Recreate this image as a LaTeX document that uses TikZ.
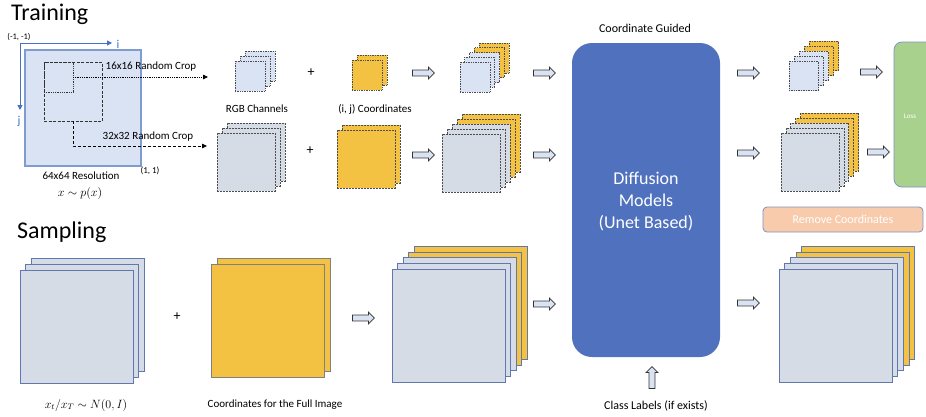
\documentclass[tikz,border=0pt]{standalone}
\usepackage{fontspec}
\setmainfont{Carlito}
\usetikzlibrary{arrows.meta,shapes.arrows}
\definecolor{lblue}{HTML}{DAE3F3}
\definecolor{gblue}{HTML}{D6DCE5}
\definecolor{gold}{HTML}{F4C243}
\definecolor{dblue}{HTML}{4F71BE}
\definecolor{axblue}{HTML}{4472C4}
\definecolor{lgreen}{HTML}{A9D18E}
\definecolor{peach}{HTML}{F8CBAD}
\definecolor{sbord}{HTML}{6077B0}
\definecolor{imgbord}{HTML}{7F9BD0}
\tikzset{
  sq/.style={inner sep=0pt, outer sep=0pt, anchor=north west},
  dotb/.style={draw=black!70, densely dotted, line width=0.7pt},
  dashb/.style={draw=black!70, dash pattern=on 2pt off 1pt, line width=0.7pt},
  solb/.style={draw=sbord, line width=0.8pt},
  harrow/.style={single arrow, draw=black!80, fill=lblue, line width=0.7pt,
    minimum height=22pt, single arrow head extend=3pt,
    inner xsep=0pt, inner ysep=2.6pt, text height=0pt, text depth=0pt, anchor=center},
  lbl/.style={font=\fontsize{11}{13}\selectfont, inner sep=0pt},
  tip/.style={-{Triangle[length=5pt,width=4.5pt]}},
}
% name, x, y, size, offset, n (layers-1), number of yellow back layers, border, fill
\newcommand{\mystack}[9]{%
  \foreach \k in {#6,...,0}{%
    \pgfmathtruncatemacro{\isy}{\k>#6-#7 ? 1 : 0}%
    \ifnum\isy=1 \def\fc{gold}\else\def\fc{#9}\fi
    \node[sq,#8,fill=\fc,minimum width=#4pt,minimum height=#4pt] (#1-\k) at ({#2+\k*#5},{-#3+\k*#5}) {};
  }%
}
\begin{document}
\begin{tikzpicture}[x=1pt,y=1pt]
\useasboundingbox (0,0) rectangle (926,-416);
\clip (0,0) rectangle (926,-416);
\fill[white] (0,0) rectangle (926,-416);

% titles
\node[anchor=west, inner sep=0pt, font=\fontsize{24}{28}\selectfont] (train) at (11,-14) {Training};
\node[anchor=west, inner sep=0pt, font=\fontsize{24}{28}\selectfont] (samp) at (17,-232) {Sampling};

% source image
\node[sq, draw=imgbord, line width=1.2pt, fill=lblue, minimum width=116pt, minimum height=116pt] (img) at (25,-50) {};
\node[sq, draw=black!80, dash pattern=on 3pt off 1.5pt, line width=0.8pt, minimum width=58pt, minimum height=59pt] (c32) at (44,-62) {};
\node[sq, draw=black!80, densely dotted, line width=0.8pt, minimum width=29pt, minimum height=30pt] (c16) at (44,-62) {};

% axes
\coordinate (ax0) at (20,-43);
\coordinate (axi) at (112,-43);
\coordinate (axj) at (20,-110);
\draw[axblue, line width=1pt, -{Triangle[length=5pt,width=5pt]}] (ax0) -- (axi);
\draw[axblue, line width=1pt, -{Triangle[length=5pt,width=5pt]}] (ax0) -- (axj);
\node[lbl, text=axblue, font=\fontsize{12}{14}\selectfont] (ilab) at (118,-44) {i};
\node[lbl, text=axblue, font=\fontsize{12}{14}\selectfont] (jlab) at (19,-121) {j};
\node[lbl, font=\fontsize{8.5}{10}\selectfont] (mm) at (19,-37) {(-1, -1)};
\node[lbl, font=\fontsize{9}{11}\selectfont] (pp) at (150,-171) {(1, 1)};
\node[lbl] (res) at (81,-176) {64x64 Resolution};
\node[inner sep=0pt, font=\fontsize{12}{14}\selectfont] (px) at (80,-193) {$x\sim p(x)$};

% crop arrows
\coordinate (e16) at (208,-77);
\coordinate (e32) at (207,-146);
\draw[densely dotted, line width=0.8pt, tip] (c16.east) -- (e16);
\draw[dash pattern=on 3pt off 2pt, line width=0.8pt, tip] (c32.south) |- (e32);
\node[lbl] (l16) at (151,-67) {16x16 Random Crop};
\node[lbl] (l32) at (148,-137) {32x32 Random Crop};

% training stacks
\mystack{rgbT}{235}{61}{30}{5}{2}{0}{dotb}{lblue}
\mystack{rgbB}{217}{133}{58}{5}{2}{0}{dashb}{gblue}
\mystack{coT}{352}{60}{30}{5}{1}{2}{dotb}{gold}
\mystack{coB}{337}{130}{58}{5}{1}{2}{dashb}{gold}
\mystack{cmT}{460}{62}{30}{4.75}{4}{2}{dotb}{lblue}
\mystack{cmB}{442}{134}{58}{5}{4}{2}{dashb}{gblue}
\mystack{outT}{789}{61}{29.5}{5}{4}{2}{dotb}{lblue}
\mystack{outB}{781}{133}{58}{4.9}{4}{2}{dashb}{gblue}

\node[font=\fontsize{14}{14}\selectfont, inner sep=0pt] (p1) at (311,-73) {+};
\node[font=\fontsize{14}{14}\selectfont, inner sep=0pt] (p2) at (310,-151) {+};
\node[lbl] (rgbl) at (257,-109) {RGB Channels};
\node[lbl] (ijl) at (375,-109) {(i, j) Coordinates};

% hollow arrows
\node[harrow] (a1) at (422,-73) {};
\node[harrow] (a2) at (543,-73) {};
\node[harrow] (a3) at (422,-155) {};
\node[harrow] (a4) at (543,-155) {};
\node[harrow] (a5) at (747,-73) {};
\node[harrow] (a6) at (747,-153) {};
\node[harrow] (a7) at (870,-72) {};
\node[harrow] (a8) at (877,-152) {};
\node[harrow] (a9) at (362,-318) {};
\node[harrow] (a10) at (543,-304) {};
\node[harrow] (a11) at (747,-303) {};
\node[harrow, rotate=90] (a12) at (652,-379) {};

% diffusion model
\node[lbl, font=\fontsize{12}{14}\selectfont] (cg) at (645,-28) {Coordinate Guided};
\node[sq, fill=dblue, rounded corners=20pt, minimum width=148pt, minimum height=314pt] (dm) at (572,-43) {};
\node[text=white, font=\fontsize{18}{22}\selectfont, align=center, inner sep=0pt] (dmt) at (646,-202) {Diffusion\\Models\\(Unet Based)};

% loss and remove coordinates
\node[sq, fill=lgreen, draw=sbord!80, line width=0.8pt, rounded corners=8pt, minimum width=50pt, minimum height=145pt] (loss) at (894,-42) {};
\node[text=white, inner sep=0pt, font=\fontsize{7}{8}\selectfont] (losst) at (910,-116) {Loss};
\node[sq, fill=peach, draw=sbord!80, line width=0.8pt, rounded corners=4pt, minimum width=160pt, minimum height=25pt, text=white, font=\fontsize{12}{14}\selectfont] (rc) at (763,-207) {Remove Coordinates};

% sampling stacks
\mystack{noise}{20}{270}{113}{5.7}{2}{0}{solb}{gblue}
\mystack{coS}{211}{264}{113}{6}{1}{2}{solb,draw=black!50}{gold}
\mystack{cmS}{392}{269}{113}{5.6}{4}{2}{solb}{gblue}
\mystack{outS}{779}{269}{113}{5.7}{4}{2}{solb}{gblue}
\node[font=\fontsize{14}{14}\selectfont, inner sep=0pt] (p3) at (177,-317) {+};
\node[inner sep=0pt, font=\fontsize{12}{14}\selectfont] (xl) at (86,-405) {$x_t/x_T\sim N(0,I)$};
\node[lbl] (cfl) at (275,-405) {Coordinates for the Full Image};
\node[lbl, font=\fontsize{12}{14}\selectfont] (cll) at (656,-406) {Class Labels (if exists)};
\end{tikzpicture}
\end{document}
